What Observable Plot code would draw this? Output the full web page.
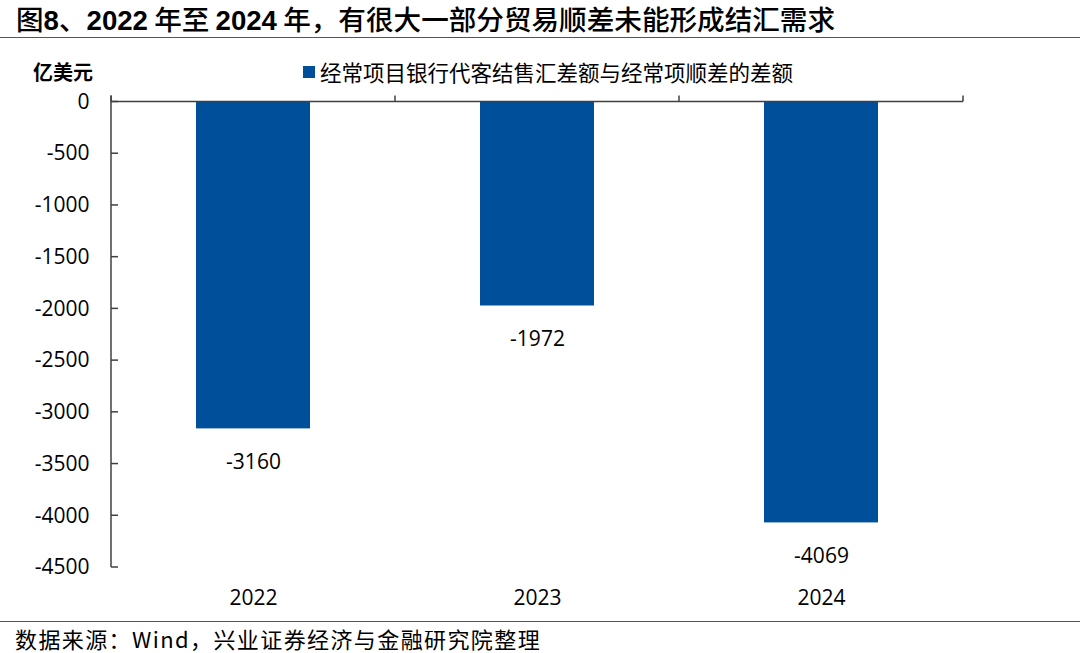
<!DOCTYPE html>
<html>
<head>
<meta charset="utf-8">
<script src="https://cdn.jsdelivr.net/npm/d3@7"></script>
<script src="https://cdn.jsdelivr.net/npm/@observablehq/plot@0.6"></script>
<style>
  html, body { margin: 0; padding: 0; background: #fff; }
  body { width: 1080px; height: 653px; position: relative; overflow: hidden; font-family: "Noto Sans CJK SC", "Noto Sans", sans-serif; color: #000; }
  .abs { position: absolute; white-space: nowrap; }
  #title { left: 16px; top: 0px; height: 36px; line-height: 36px; font-size: 27.6px; font-weight: 500; }
  #title b { font-family: "Liberation Sans", Arial, sans-serif; font-weight: bold; }
  #topline { left: 0; top: 37px; width: 1080px; height: 0; border-top: 1.5px solid #555; }
  #unit { left: 33px; top: 59px; line-height: 26px; font-size: 20px; font-weight: bold; }
  #legend { left: 303px; top: 59px; line-height: 26px; font-size: 21.5px; display: flex; align-items: center; }
  #legend .sw { width: 12px; height: 12px; margin-right: 5px; }
  #botline { left: 0; top: 621px; width: 1080px; height: 0; border-top: 1.5px solid #555; }
  #source { left: 15px; top: 623px; line-height: 30px; font-size: 22px; letter-spacing: 1.4px; }
  #chart { left: 0; top: 39px; }
</style>
</head>
<body>
<div id="title" class="abs"></div>
<div id="topline" class="abs"></div>
<div id="unit" class="abs"></div>
<div id="legend" class="abs"><span class="sw"></span><span id="legtext"></span></div>
<div id="chart" class="abs"></div>
<div id="botline" class="abs"></div>
<div id="source" class="abs"></div>
<script>
// ---- data ----
const titleText = "图8、2022 年至 2024 年，有很大一部分贸易顺差未能形成结汇需求";
const unitText = "亿美元";
const seriesName = "经常项目银行代客结售汇差额与经常项顺差的差额";
const sourceText = "数据来源：Wind，兴业证券经济与金融研究院整理";
const years = ["2022", "2023", "2024"];
const values = [-3160, -1972, -4069];
const yTicks = [0, -500, -1000, -1500, -2000, -2500, -3000, -3500, -4000, -4500];

// ---- style ----
const barColor = "#004f9b";
const axisColor = "#404040";
const numFont = "Open Sans, Noto Sans, sans-serif";

const titleEl = document.getElementById("title");
titleText.split(/(\d+)/).forEach(part => {
  if (!part) return;
  if (/^\d+$/.test(part)) { const b = document.createElement("b"); b.textContent = part; titleEl.appendChild(b); }
  else titleEl.appendChild(document.createTextNode(part));
});
document.getElementById("unit").textContent = unitText;
document.getElementById("legtext").textContent = seriesName;
document.querySelector("#legend .sw").style.background = barColor;
document.getElementById("source").textContent = sourceText;

const data = years.map((y, i) => ({year: y, value: values[i]}));

function axisLines(index, scales, vals, dims) {
  const {width, height, marginLeft, marginRight, marginBottom} = dims;
  const x0 = marginLeft, x1 = width - marginRight;
  const yTop = scales.y(0), yBot = height - marginBottom;
  const g = d3.create("svg:g")
    .attr("stroke", axisColor).attr("stroke-width", 1.5).attr("fill", "none");
  g.append("line").attr("x1", x0).attr("x2", x0).attr("y1", yTop - 6).attr("y2", yBot);
  g.append("line").attr("x1", x0).attr("x2", x1).attr("y1", yTop).attr("y2", yTop);
  const n = years.length;
  for (let i = 0; i <= n; i++) {
    const xx = x0 + i * (x1 - x0) / n;
    g.append("line").attr("x1", xx).attr("x2", xx).attr("y1", yTop).attr("y2", yTop - 6);
  }
  yTicks.forEach(v => {
    const yy = scales.y(v);
    g.append("line").attr("x1", x0).attr("x2", x0 + 7).attr("y1", yy).attr("y2", yy);
  });
  return g.node();
}

const chart = Plot.plot({
  width: 1080,
  height: 582,
  marginTop: 62.5,
  marginBottom: 54,
  marginLeft: 111,
  marginRight: 117,
  style: {fontFamily: numFont, fontSize: "21px", color: "#000", background: "transparent"},
  x: {domain: years, paddingInner: 0.6, paddingOuter: 0.3, tickSize: 0, tickPadding: 23, label: null},
  y: {domain: [-4500, 0], ticks: yTicks, tickSize: 0, tickPadding: 22, label: null, tickFormat: d => String(d)},
  marks: [
    Plot.barY(data, {x: "year", y: "value", fill: barColor}),
    Plot.text(data, {x: "year", y: "value", text: d => String(d.value), dy: 33, fill: "#000", fontSize: 21}),
    axisLines
  ]
});
document.getElementById("chart").appendChild(chart);
</script>
</body>
</html>
